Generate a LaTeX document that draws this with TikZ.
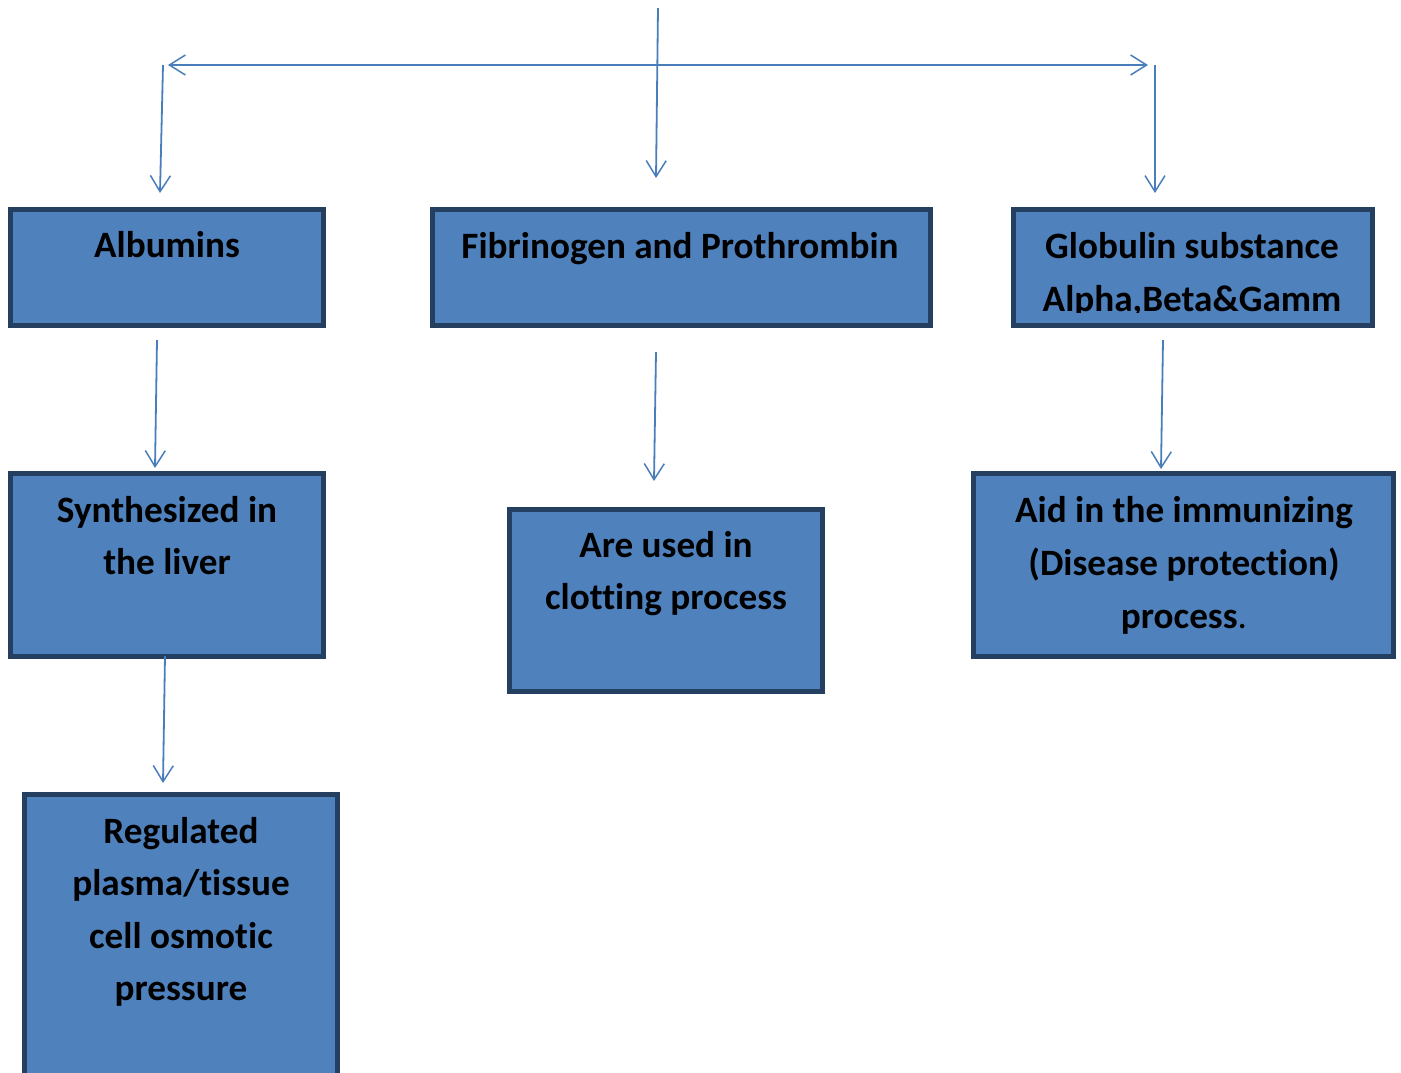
\documentclass[tikz,border=0pt]{standalone}
\usepackage{fontspec}
\setmainfont{Carlito}[Ligatures=NoCommon]
\usetikzlibrary{arrows.meta}
\definecolor{boxfill}{HTML}{4F81BD}
\definecolor{boxline}{HTML}{243F60}
\definecolor{arrowc}{HTML}{4A7EBB}
\begin{document}
\begin{tikzpicture}[x=1pt,y=-1pt,
  box/.style={draw=boxline, line width=5pt, fill=boxfill, anchor=north west, inner sep=0pt, outer sep=0pt},
  lbl/.style={font=\fontsize{37.2}{52}\selectfont\bfseries, align=center, inner sep=0pt, anchor=north},
  conn/.style={draw=arrowc, line width=1.8pt, -{Straight Barb[length=16pt,width=20pt,line width=1.5pt]}},
  conn2/.style={draw=arrowc, line width=1.8pt, {Straight Barb[length=16pt,width=20pt,line width=1.5pt]}-{Straight Barb[length=16pt,width=20pt,line width=1.5pt]}}]
\useasboundingbox (0,0) rectangle (1401,1072);
\clip (0,0) rectangle (1401,1072);
% boxes
\node (alb) [box, minimum width=313pt, minimum height=116pt] at (10.5,209.5) {};
\node (fib) [box, minimum width=498pt, minimum height=116pt] at (432,209.5) {};
\node (glob) [box, minimum width=359pt, minimum height=116pt] at (1013,209.5) {};
\node (syn) [box, minimum width=313pt, minimum height=183pt] at (10.5,473) {};
\node (use) [box, minimum width=313pt, minimum height=182pt] at (509.5,509) {};
\node (aid) [box, minimum width=420pt, minimum height=183pt] at (973,473) {};
\node (reg) [box, minimum width=313pt, minimum height=300pt] at (24.5,794) {};
% texts (top = first baseline - 0.7*baselineskip)
\node (talb) [lbl] at (167,257-36.4) {\strut Albumins};
\node (tfib) [lbl] at (680,258-36.4) {\strut Fibrinogen and Prothrombin};
\begin{scope}
\clip (1015.5,212) rectangle (1369.5,312.5);
\node (tglob) [lbl, font=\fontsize{37.2}{53}\selectfont\bfseries] at (1192,258-37.1) {\strut Globulin substance\\Alpha,Beta\&Gamm};
\end{scope}
\node (tsyn) [lbl] at (167,522-36.4) {\strut Synthesized in\\the liver};
\node (tuse) [lbl] at (666,557-36.4) {\strut Are used in\\clotting process};
\node (taid) [lbl, font=\fontsize{37.2}{53}\selectfont\bfseries] at (1184,522-37.1) {\strut Aid in the immunizing\\(Disease protection)\\process{\mdseries .}};
\node (treg) [lbl, font=\fontsize{37.2}{52.5}\selectfont\bfseries] at (181,843-36.75) {\strut Regulated\\plasma/tissue\\cell osmotic\\pressure};
% connector end points
\coordinate (top) at (658,8);
\coordinate (topend) at (656,178);
\coordinate (hl) at (168,65);
\coordinate (hr) at (1148,65);
\coordinate (ls) at (163,65);
\coordinate (le) at (160,193);
\coordinate (rs) at (1155,65);
\coordinate (re) at (1155,193);
\coordinate (a1) at (157,340);
\coordinate (a2) at (155,468);
\coordinate (b1) at (165,656);
\coordinate (b2) at (163,783);
\coordinate (c1) at (656,352);
\coordinate (c2) at (654,481);
\coordinate (d1) at (1163,340);
\coordinate (d2) at (1161,469);
% connectors
\draw[conn] (top) -- (topend);
\draw[conn2] (hl) -- (hr);
\draw[conn] (ls) -- (le);
\draw[conn] (rs) -- (re);
\draw[conn] (a1) -- (a2);
\draw[conn] (b1) -- (b2);
\draw[conn] (c1) -- (c2);
\draw[conn] (d1) -- (d2);
\end{tikzpicture}
\end{document}
